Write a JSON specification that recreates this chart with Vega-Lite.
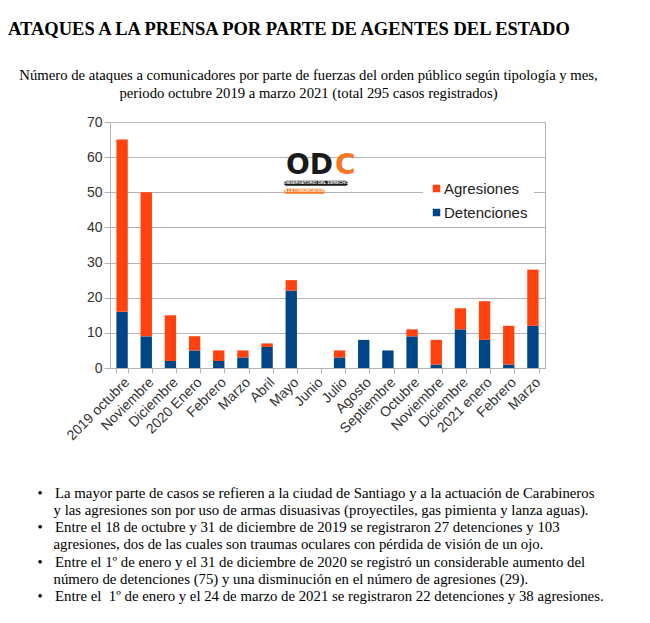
{
  "$schema": "https://vega.github.io/schema/vega-lite/v6.json",
  "width": 435,
  "height": 246,
  "autosize": {"type": "none"},
  "padding": {"left": 110, "top": 122, "right": 105, "bottom": 255},
  "background": "white",
  "title": {
    "text": "ATAQUES A LA PRENSA POR PARTE DE AGENTES DEL ESTADO",
    "anchor": "start",
    "frame": "group",
    "dx": -102,
    "dy": 1,
    "offset": 30,
    "font": "Liberation Serif",
    "fontSize": 18.5,
    "fontWeight": "bold",
    "color": "#000000"
  },
  "config": {
    "view": {"stroke": "#b3b3b3", "strokeWidth": 1},
    "font": "Liberation Sans",
    "axisY": {"labelOverlap": false}
  },
  "resolve": {"scale": {"x": "independent", "y": "independent"}},
  "layer": [
    {
      "data": {
        "values": [
          {"mes": "2019-10|2019 octubre", "tipo": "Detenciones", "casos": 16},
          {"mes": "2019-10|2019 octubre", "tipo": "Agresiones", "casos": 49},
          {"mes": "2019-11|Noviembre", "tipo": "Detenciones", "casos": 9},
          {"mes": "2019-11|Noviembre", "tipo": "Agresiones", "casos": 41},
          {"mes": "2019-12|Diciembre", "tipo": "Detenciones", "casos": 2},
          {"mes": "2019-12|Diciembre", "tipo": "Agresiones", "casos": 13},
          {"mes": "2020-01|2020 Enero", "tipo": "Detenciones", "casos": 5},
          {"mes": "2020-01|2020 Enero", "tipo": "Agresiones", "casos": 4},
          {"mes": "2020-02|Febrero", "tipo": "Detenciones", "casos": 2},
          {"mes": "2020-02|Febrero", "tipo": "Agresiones", "casos": 3},
          {"mes": "2020-03|Marzo", "tipo": "Detenciones", "casos": 3},
          {"mes": "2020-03|Marzo", "tipo": "Agresiones", "casos": 2},
          {"mes": "2020-04|Abril", "tipo": "Detenciones", "casos": 6},
          {"mes": "2020-04|Abril", "tipo": "Agresiones", "casos": 1},
          {"mes": "2020-05|Mayo", "tipo": "Detenciones", "casos": 22},
          {"mes": "2020-05|Mayo", "tipo": "Agresiones", "casos": 3},
          {"mes": "2020-06|Junio", "tipo": "Detenciones", "casos": 0},
          {"mes": "2020-06|Junio", "tipo": "Agresiones", "casos": 0},
          {"mes": "2020-07|Julio", "tipo": "Detenciones", "casos": 3},
          {"mes": "2020-07|Julio", "tipo": "Agresiones", "casos": 2},
          {"mes": "2020-08|Agosto", "tipo": "Detenciones", "casos": 8},
          {"mes": "2020-08|Agosto", "tipo": "Agresiones", "casos": 0},
          {"mes": "2020-09|Septiembre", "tipo": "Detenciones", "casos": 5},
          {"mes": "2020-09|Septiembre", "tipo": "Agresiones", "casos": 0},
          {"mes": "2020-10|Octubre", "tipo": "Detenciones", "casos": 9},
          {"mes": "2020-10|Octubre", "tipo": "Agresiones", "casos": 2},
          {"mes": "2020-11|Noviembre", "tipo": "Detenciones", "casos": 1},
          {"mes": "2020-11|Noviembre", "tipo": "Agresiones", "casos": 7},
          {"mes": "2020-12|Diciembre", "tipo": "Detenciones", "casos": 11},
          {"mes": "2020-12|Diciembre", "tipo": "Agresiones", "casos": 6},
          {"mes": "2021-01|2021 enero", "tipo": "Detenciones", "casos": 8},
          {"mes": "2021-01|2021 enero", "tipo": "Agresiones", "casos": 11},
          {"mes": "2021-02|Febrero", "tipo": "Detenciones", "casos": 1},
          {"mes": "2021-02|Febrero", "tipo": "Agresiones", "casos": 11},
          {"mes": "2021-03|Marzo", "tipo": "Detenciones", "casos": 12},
          {"mes": "2021-03|Marzo", "tipo": "Agresiones", "casos": 16}
        ]
      },
      "mark": {"type": "bar"},
      "encoding": {
        "x": {
          "field": "mes",
          "type": "nominal",
          "sort": null,
          "scale": {"paddingInner": 0.53, "paddingOuter": 0.265},
          "axis": {
            "title": [
              "•\u2002\u00a0\u200aLa mayor parte de casos se refieren a la ciudad de Santiago y a la actuación de Carabineros",
              "\u200b\u2002\u2002\u200ay las agresiones son por uso de armas disuasivas (proyectiles, gas pimienta y lanza aguas).",
              "•\u2002\u00a0\u200aEntre el 18 de octubre y 31 de diciembre de 2019 se registraron 27 detenciones y 103",
              "\u200b\u2002\u2002\u200aagresiones, dos de las cuales son traumas oculares con pérdida de visión de un ojo.",
              "•\u2002\u00a0\u200aEntre el 1º de enero y el 31 de diciembre de 2020 se registró un considerable aumento del",
              "\u200b\u2002\u2002\u200anúmero de detenciones (75) y una disminución en el número de agresiones (29).",
              "•\u2002\u00a0\u200aEntre el\u00a0 1º de enero y el 24 de marzo de 2021 se registraron 22 detenciones y 38 agresiones."
            ],
            "labelExpr": "split(datum.value, '|')[1]",
            "labelAngle": -45,
            "labelFontSize": 14,
            "labelFont": "Liberation Sans",
            "labelColor": "#333333",
            "labelOverlap": false,
            "labelPadding": 2,
            "tickBand": "extent",
            "tickSize": 5,
            "tickColor": "#b3b3b3",
            "domainColor": "#b3b3b3",
            "titleX": -73,
            "titleY": 129,
            "titleAlign": "left",
            "titleAnchor": "start",
            "titleBaseline": "alphabetic",
            "titleFont": "Liberation Serif",
            "titleFontSize": 14.8,
            "titleFontWeight": "normal",
            "titleLineHeight": 17.3,
            "titleColor": "#000000"
          }
        },
        "y": {
          "field": "casos",
          "type": "quantitative",
          "stack": "zero",
          "scale": {"domain": [0, 70], "nice": false},
          "axis": {
            "title": [
              "Número de ataques a comunicadores por parte de fuerzas del orden público según tipología y mes,",
              "periodo octubre 2019 a marzo 2021 (total 295 casos registrados)"
            ],
            "titleAngle": 0,
            "titleX": 198,
            "titleY": -43,
            "titleAlign": "center",
            "titleBaseline": "alphabetic",
            "titleFont": "Liberation Serif",
            "titleFontSize": 14.7,
            "titleFontWeight": "normal",
            "titleLineHeight": 18,
            "titleColor": "#000000",
            "values": [0, 10, 20, 30, 40, 50, 60, 70],
            "labelOverlap": false,
            "grid": true,
            "gridColor": "#b3b3b3",
            "tickSize": 6,
            "tickColor": "#b3b3b3",
            "domainColor": "#b3b3b3",
            "labelFontSize": 14,
            "labelFont": "Liberation Sans",
            "labelColor": "#333333",
            "labelPadding": 2
          }
        },
        "color": {
          "field": "tipo",
          "type": "nominal",
          "scale": {"domain": ["Agresiones", "Detenciones"], "range": ["#ff420e", "#004586"]},
          "legend": {
            "title": null,
            "orient": "none",
            "legendX": 313,
            "legendY": 53,
            "fillColor": "white",
            "padding": 6,
            "symbolType": "square",
            "symbolSize": 56,
            "symbolStrokeWidth": 0,
            "labelFontSize": 15,
            "labelFont": "Liberation Sans",
            "labelColor": "#222222",
            "rowPadding": 8,
            "labelOffset": 0
          }
        },
        "order": {"field": "tipo", "sort": "descending"}
      }
    },
    {
      "data": {"values": [{}]},
      "encoding": {
        "x": {
          "datum": "2020-06|Junio",
          "type": "nominal",
          "scale": {
            "domain": ["2019-10|2019 octubre", "2019-11|Noviembre", "2019-12|Diciembre", "2020-01|2020 Enero", "2020-02|Febrero", "2020-03|Marzo", "2020-04|Abril", "2020-05|Mayo", "2020-06|Junio", "2020-07|Julio", "2020-08|Agosto", "2020-09|Septiembre", "2020-10|Octubre", "2020-11|Noviembre", "2020-12|Diciembre", "2021-01|2021 enero", "2021-02|Febrero", "2021-03|Marzo"],
            "paddingInner": 0.53,
            "paddingOuter": 0.265
          },
          "axis": null
        }
      },
      "layer": [
        {
          "mark": {"type": "tick", "color": "#1a1a1a", "size": 64, "thickness": 5, "cornerRadius": 2.5, "xOffset": 0.6, "opacity": 1},
          "encoding": {"y": {"datum": 52.6, "type": "quantitative", "scale": {"domain": [0, 70], "nice": false}, "axis": null}}
        },
        {
          "mark": {"type": "tick", "color": "#f7761f", "size": 41, "thickness": 5, "cornerRadius": 2.5, "xOffset": -11, "opacity": 1},
          "encoding": {"y": {"datum": 50.3, "type": "quantitative", "scale": {"domain": [0, 70], "nice": false}, "axis": null}}
        },
        {
          "mark": {"type": "text", "text": "OBSERVATORIO DEL DERECHO", "font": "Liberation Sans", "fontWeight": "bold", "fontSize": 4.2, "color": "white", "baseline": "middle", "align": "center", "dx": 0.6},
          "encoding": {"y": {"datum": 52.6, "type": "quantitative", "scale": {"domain": [0, 70], "nice": false}, "axis": null}}
        },
        {
          "mark": {"type": "text", "text": "A LA COMUNICACIÓN", "font": "Liberation Sans", "fontWeight": "bold", "fontSize": 3.8, "color": "white", "baseline": "middle", "align": "center", "dx": -11},
          "encoding": {"y": {"datum": 50.3, "type": "quantitative", "scale": {"domain": [0, 70], "nice": false}, "axis": null}}
        },
        {
          "mark": {"type": "text", "text": "OD", "font": "DejaVu Sans", "fontWeight": "bold", "fontSize": 28, "color": "#1a1a1a", "baseline": "alphabetic", "align": "right", "dx": 17.6},
          "encoding": {"y": {"datum": 55.3, "type": "quantitative", "scale": {"domain": [0, 70], "nice": false}, "axis": null}}
        },
        {
          "mark": {"type": "text", "text": "C", "font": "DejaVu Sans", "fontWeight": "bold", "fontSize": 28, "color": "#f7761f", "baseline": "alphabetic", "align": "left", "dx": 19.6},
          "encoding": {"y": {"datum": 55.3, "type": "quantitative", "scale": {"domain": [0, 70], "nice": false}, "axis": null}}
        }
      ]
    }
  ]
}
